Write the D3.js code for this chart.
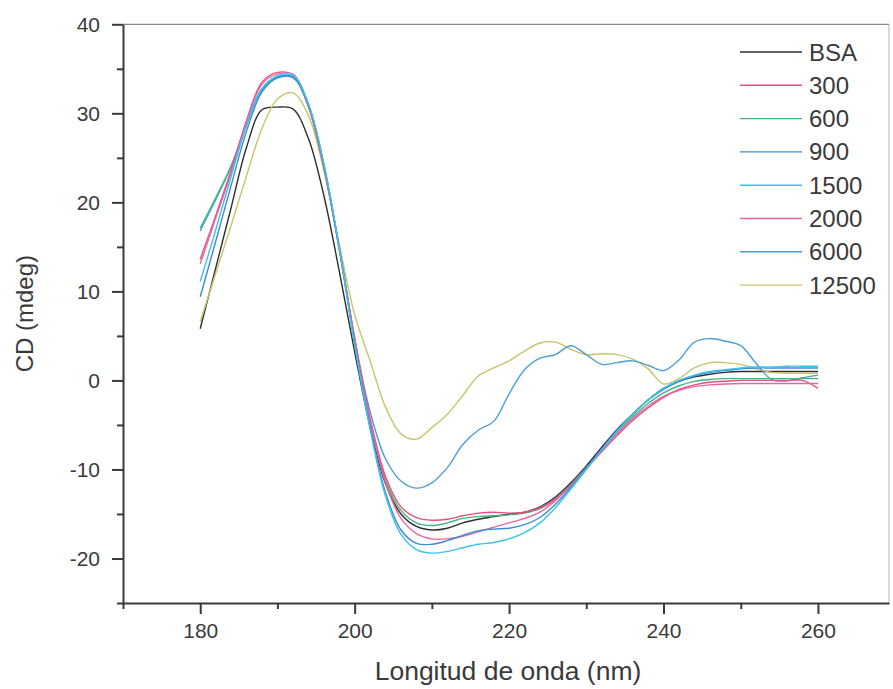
<!DOCTYPE html>
<html>
<head>
<meta charset="utf-8">
<script src="https://cdn.jsdelivr.net/npm/d3@7"></script>
<style>
  body { margin: 0; background: #fff; }
  svg { display: block; font-family: "Liberation Sans", Arial, sans-serif; }
  .axis path, .axis line { stroke: #3a3a3a; }
  .axis text { fill: #3a3a3a; font-size: 21px; }
</style>
</head>
<body>
<div id="chart"></div>
<script>
// wavelength (nm), every 2 nm
var wavelength = [180, 182, 184, 186, 188, 190, 192, 194, 196, 198,
  200, 202, 204, 206, 208, 210, 212, 214, 216, 218,
  220, 222, 224, 226, 228, 230, 232, 234, 236, 238,
  240, 242, 244, 246, 248, 250, 252, 254, 256, 258, 260];

// CD (mdeg) for each sample
var cdBSA = [5.8, 12.6, 19.4, 26.2, 30.4, 30.7, 30.5, 27.2, 20.8, 12.3,
  3.2, -5.2, -11.6, -15.0, -16.4, -16.8, -16.6, -16.0, -15.6, -15.3,
  -15.0, -14.8, -14.2, -13.1, -11.5, -9.6, -7.5, -5.5, -3.8, -2.2,
  -0.9, -0.1, 0.4, 0.7, 0.9, 1.0, 1.0, 1.0, 1.0, 1.0, 1.0];
var cd300 = [13.6, 18.5, 23.6, 29.2, 33.5, 34.6, 34.3, 30.8, 24.0, 14.8,
  4.8, -4.2, -10.8, -14.2, -15.4, -15.7, -15.6, -15.2, -14.9, -14.8,
  -14.9, -14.8, -14.3, -13.3, -11.8, -9.9, -8.0, -6.2, -4.5, -3.1,
  -1.9, -1.0, -0.5, -0.2, -0.1, 0.0, 0.0, 0.0, 0.0, 0.0, -0.9];
var cd600 = [17.1, 20.5, 24.1, 28.8, 32.8, 34.1, 34.1, 30.8, 24.0, 14.8,
  4.6, -4.5, -11.2, -14.6, -16.0, -16.3, -16.0, -15.5, -15.3, -15.2,
  -15.1, -14.9, -14.4, -13.3, -11.7, -9.8, -7.8, -5.8, -4.1, -2.6,
  -1.4, -0.6, -0.1, 0.1, 0.2, 0.2, 0.2, 0.2, 0.2, 0.2, 0.2];
var cd900 = [9.4, 15.6, 21.9, 28.0, 32.4, 34.0, 34.1, 31.0, 24.3, 14.8,
  4.2, -5.2, -12.6, -16.8, -18.3, -18.4, -18.0, -17.4, -16.9, -16.7,
  -16.6, -16.2, -15.4, -13.9, -12.0, -9.9, -7.7, -5.6, -3.8, -2.2,
  -1.0, -0.1, 0.5, 0.9, 1.1, 1.3, 1.4, 1.4, 1.4, 1.4, 1.4];
var cd1500 = [11.1, 16.9, 22.9, 28.6, 32.8, 34.2, 34.3, 31.1, 24.4, 14.9,
  4.0, -5.5, -13.0, -17.3, -19.0, -19.4, -19.2, -18.8, -18.4, -18.2,
  -17.8, -17.1, -16.0, -14.3, -12.2, -10.0, -7.8, -5.7, -3.8, -2.2,
  -0.9, 0.0, 0.6, 1.0, 1.2, 1.4, 1.5, 1.5, 1.6, 1.6, 1.6];
var cd2000 = [13.1, 18.2, 23.3, 29.0, 33.3, 34.4, 34.4, 31.0, 24.2, 14.9,
  4.6, -4.5, -11.5, -15.5, -17.2, -17.8, -17.8, -17.5, -17.0, -16.5,
  -16.0, -15.5, -14.8, -13.5, -11.8, -9.9, -7.9, -6.0, -4.3, -2.9,
  -1.8, -1.1, -0.7, -0.5, -0.4, -0.35, -0.35, -0.35, -0.35, -0.35, -0.35];
var cd6000 = [16.8, 20.3, 24.0, 28.7, 32.6, 34.0, 34.0, 30.9, 24.2, 15.0,
  4.6, -3.5, -8.8, -11.3, -12.1, -11.5, -9.8, -7.2, -5.6, -4.6,
  -1.5, 1.2, 2.5, 2.9, 3.9, 2.9, 1.8, 2.0, 2.2, 1.7,
  1.1, 2.3, 4.3, 4.7, 4.4, 3.9, 1.9, 0.1, -0.05, 0.3, 0.6];
var cd12500 = [6.6, 12.0, 17.4, 23.0, 28.3, 31.6, 32.3, 29.8, 23.6, 15.3,
  7.4, 2.2, -3.0, -6.0, -6.6, -5.3, -3.8, -1.7, 0.5, 1.4,
  2.2, 3.3, 4.2, 4.3, 3.5, 2.9, 3.0, 2.9, 2.4, 1.3,
  -0.4, 0.2, 1.4, 2.0, 2.0, 1.8, 1.3, 0.9, 0.8, 0.8, 0.8];

var seriesNames = ['BSA', '300', '600', '900', '1500', '2000', '6000', '12500'];
var seriesValues = [cdBSA, cd300, cd600, cd900, cd1500, cd2000, cd6000, cd12500];
var seriesColors = ['#2e2e2e', '#e8507e', '#3cb87c', '#3a8cd6', '#38c4ec', '#e864a4', '#4a9fd6', '#c9c46c'];

var xTicksMajor = [180, 200, 220, 240, 260];
var xTicksMinor = [170, 190, 210, 230, 250];
var yTicksMajor = [-20, -10, 0, 10, 20, 30, 40];
var yTicksMinor = [-25, -15, -5, 5, 15, 25, 35];

var width = 893;
var height = 689;

var svg = d3.select('#chart').append('svg')
  .attr('width', width)
  .attr('height', height);

svg.append('rect')
  .attr('width', width)
  .attr('height', height)
  .attr('fill', '#fff');

//Scales
var x = d3.scaleLinear().domain([170, 269.2]).range([123, 889]);
var y = d3.scaleLinear().domain([-25, 40]).range([603, 24.3]);

//plain hyphen for negatives, like the original
var fmt = function(d) { return String(d); };

//Frame top / right (thin grey)
svg.append('line')
  .attr('x1', x.range()[0]).attr('x2', x.range()[1])
  .attr('y1', y.range()[1]).attr('y2', y.range()[1])
  .attr('stroke', '#8a8a8a').attr('stroke-width', 1.2);
svg.append('line')
  .attr('x1', x.range()[1]).attr('x2', x.range()[1])
  .attr('y1', y.range()[1]).attr('y2', y.range()[0])
  .attr('stroke', '#b0b0b0').attr('stroke-width', 1);

//Curves
var line = d3.line()
  .x(function(d) { return x(d[0]); })
  .y(function(d) { return y(d[1]); })
  .curve(d3.curveCatmullRom.alpha(0.5));

var drawOrder = [0, 7, 6, 2, 1, 5, 3, 4];
drawOrder.forEach(function(i) {
  var pts = wavelength.map(function(w, j) { return [w, seriesValues[i][j]]; });
  svg.append('path')
    .datum(pts)
    .attr('d', line)
    .attr('fill', 'none')
    .attr('stroke', seriesColors[i])
    .attr('stroke-width', 1.4)
    .attr('stroke-linejoin', 'round');
});

//Axes - minor ticks first, then major with labels
svg.append('g')
  .attr('class', 'axis')
  .attr('transform', 'translate(0,' + y.range()[0] + ')')
  .call(d3.axisBottom(x).tickValues(xTicksMinor).tickSize(6).tickSizeOuter(0).tickFormat(''))
  .call(function(g) { g.select('.domain').remove(); })
  .selectAll('line').attr('stroke-width', 2);

var xAxis = svg.append('g')
  .attr('class', 'axis')
  .attr('transform', 'translate(0,' + y.range()[0] + ')')
  .call(d3.axisBottom(x).tickValues(xTicksMajor).tickFormat(fmt).tickSize(11).tickSizeOuter(0).tickPadding(9));
xAxis.select('.domain').attr('stroke-width', 2);
xAxis.selectAll('line').attr('stroke-width', 2);

svg.append('g')
  .attr('class', 'axis')
  .attr('transform', 'translate(' + x.range()[0] + ',0)')
  .call(d3.axisLeft(y).tickValues(yTicksMinor).tickSize(6).tickSizeOuter(0).tickFormat(''))
  .call(function(g) { g.select('.domain').remove(); })
  .selectAll('line').attr('stroke-width', 2);

var yAxis = svg.append('g')
  .attr('class', 'axis')
  .attr('transform', 'translate(' + x.range()[0] + ',0)')
  .call(d3.axisLeft(y).tickValues(yTicksMajor).tickFormat(fmt).tickSize(11).tickSizeOuter(0).tickPadding(12));
yAxis.select('.domain').attr('stroke-width', 2);
yAxis.selectAll('line').attr('stroke-width', 2);

//Axis titles
svg.append('text')
  .attr('x', 508)
  .attr('y', 680)
  .attr('text-anchor', 'middle')
  .attr('fill', '#3a3a3a')
  .style('font-size', '26.5px')
  .text('Longitud de onda (nm)');

svg.append('text')
  .attr('transform', 'translate(33,' + ((y.range()[0] + y.range()[1]) / 2) + ') rotate(-90)')
  .attr('text-anchor', 'middle')
  .attr('fill', '#3a3a3a')
  .style('font-size', '24px')
  .text('CD (mdeg)');

//Legend
var legend = svg.append('g').attr('transform', 'translate(740,52)');
seriesNames.forEach(function(name, i) {
  var row = legend.append('g').attr('transform', 'translate(0,' + (i * 33.3) + ')');
  row.append('line')
    .attr('x1', 0).attr('x2', 62)
    .attr('stroke', seriesColors[i])
    .attr('stroke-width', 1.4);
  row.append('text')
    .attr('x', 69)
    .attr('y', 8.5)
    .attr('fill', '#3a3a3a')
    .style('font-size', '24px')
    .text(name);
});
</script>
</body>
</html>
